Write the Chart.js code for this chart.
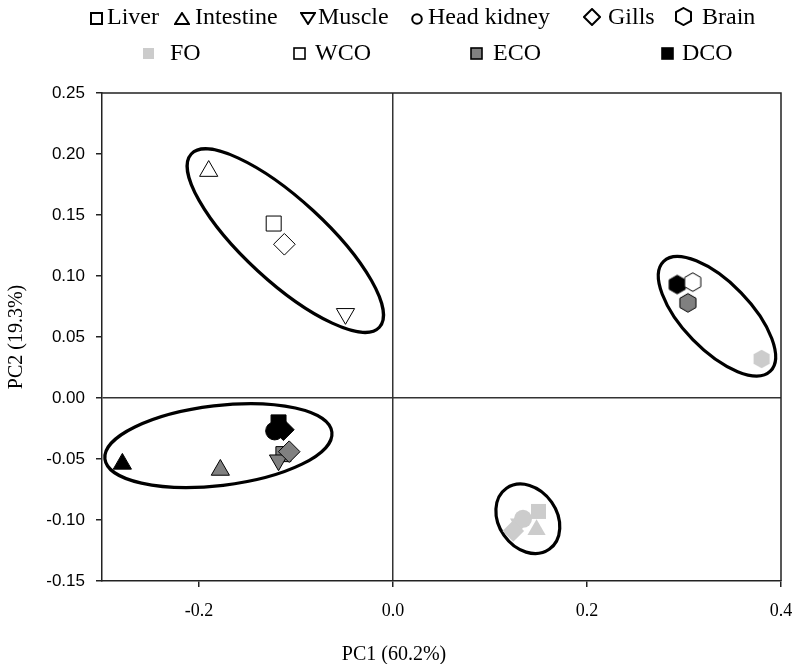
<!DOCTYPE html>
<html lang="en">
<head>
  <meta charset="UTF-8">
  <title>PCA scores</title>
  <style>
    body {
      margin: 0;
      padding: 0;
      background-color: #fff;
    }

    .wrap {
      position: relative;
      width: 794px;
      height: 664px;
    }

    .legend-text, .axis-title {
      position: absolute;
      font-family: 'Liberation Serif', 'Times New Roman', serif;
      color: #000;
      white-space: nowrap;
    }

    .legend-text {
      font-size: 24px;
      line-height: 24px;
    }

    .legend-icon {
      position: absolute;
    }

    .axis-title {
      font-size: 20px;
      line-height: 20px;
      transform: translateX(-50%);
    }
  </style>
</head>
<body>
  <div class="wrap" id="wrap">
    <canvas id="pca" width="794" height="664"></canvas>
    <div class="axis-title" style="left: 394px; top: 643px;">PC1 (60.2%)</div>
  </div>

  <script src="https://cdn.jsdelivr.net/npm/chart.js"></script>
  <script>
    // tissues (marker shape) and diets (marker colour)
    const tissues = ['Liver', 'Intestine', 'Muscle', 'Head kidney', 'Gills', 'Brain'];
    const diets = ['FO', 'WCO', 'ECO', 'DCO'];

    // PC1 / PC2 scores, one value per tissue (null = not visible)
    const pc1FO = [0.150, 0.148, 0.130, 0.134, 0.124, 0.380];
    const pc2FO = [-0.093, -0.108, -0.103, -0.099, -0.109, 0.032];
    const pc1WCO = [-0.123, -0.190, -0.049, null, -0.112, 0.309];
    const pc2WCO = [0.143, 0.186, 0.069, null, 0.126, 0.095];
    const pc1ECO = [-0.113, -0.178, -0.118, null, -0.107, 0.304];
    const pc2ECO = [-0.046, -0.059, -0.051, null, -0.044, 0.078];
    const pc1DCO = [-0.118, -0.279, null, -0.122, -0.113, 0.293];
    const pc2DCO = [-0.020, -0.054, null, -0.027, -0.026, 0.093];

    const xTickValues = [-0.2, 0, 0.2, 0.4];

    // cluster ellipses: centre, end of long axis, short/long ratio
    const ellipseCentreX = [-0.111, -0.180, 0.139, 0.334];
    const ellipseCentreY = [0.129, -0.039, -0.099, 0.067];
    const ellipseTipX = [-0.014, -0.063, 0.161, 0.389];
    const ellipseTipY = [0.058, -0.028, -0.124, 0.022];
    const ellipseRatio = [0.32, 0.35, 0.78, 0.44];

    const pc1 = [pc1FO, pc1WCO, pc1ECO, pc1DCO];
    const pc2 = [pc2FO, pc2WCO, pc2ECO, pc2DCO];

    // styles
    const dietFill = ['#cccccc', '#ffffff', '#808080', '#000000'];
    const dietBorder = ['#cccccc', '#000000', '#000000', '#000000'];
    const dietBorderWidth = [0, 1, 1, 1];
    const tissueShape = ['rect', 'triangle', 'triangle', 'circle', 'rectRot', 'hexagon'];
    const tissueRotation = [0, 0, 180, 0, 0, 0];
    const tissueRadius = [10.6, 10.5, 10.5, 9, 10.8, 9.5];

    function hexagon(fill, stroke, lw) {
      const c = document.createElement('canvas');
      c.width = 22; c.height = 22;
      const g = c.getContext('2d');
      g.beginPath();
      for (let k = 0; k < 6; k++) {
        const a = -Math.PI / 2 + k * Math.PI / 3;
        const px = 11 + 9.3 * Math.cos(a), py = 11 + 9.3 * Math.sin(a);
        if (k === 0) g.moveTo(px, py); else g.lineTo(px, py);
      }
      g.closePath();
      g.fillStyle = fill;
      g.fill();
      if (lw > 0) {
        g.lineWidth = lw;
        g.strokeStyle = stroke;
        g.stroke();
      }
      return c;
    }

    const datasets = diets.map((d, di) => ({
      label: d,
      data: tissues.map((t, ti) => ({ x: pc1[di][ti], y: pc2[di][ti] })),
      pointStyle: tissueShape.map(s => s === 'hexagon' ? hexagon(dietFill[di], dietBorder[di], dietBorderWidth[di]) : s),
      pointRotation: tissueRotation,
      pointRadius: tissueRadius,
      backgroundColor: dietFill[di],
      borderColor: dietBorder[di],
      borderWidth: dietBorderWidth[di]
    }));

    // legend (HTML, above the canvas)
    const tissueIconX = [90, 174, 300, 411, 583, 675];
    const tissueTextX = [107, 195, 318, 428, 608, 702];
    const dietIconX = [142, 293, 470, 661];
    const dietTextX = [170, 315, 493, 682];

    function iconSvg(shape, fill, stroke, sw) {
      let body = '';
      if (shape === 'rect') body = `<rect x="1" y="1" width="11" height="11"/>`;
      if (shape === 'triangle') body = `<polygon points="8,1 15,12 1,12"/>`;
      if (shape === 'triangleDown') body = `<polygon points="1,1 15,1 8,12"/>`;
      if (shape === 'circle') body = `<circle cx="6" cy="6" r="4.8"/>`;
      if (shape === 'rectRot') body = `<polygon points="9,1 17,9 9,17 1,9"/>`;
      if (shape === 'hexagon') body = `<polygon points="8.5,1 16,5.2 16,13.8 8.5,18 1,13.8 1,5.2"/>`;
      const size = { rect: [13, 13], triangle: [16, 13], triangleDown: [16, 13], circle: [12, 12], rectRot: [18, 18], hexagon: [17, 19] }[shape];
      return `<svg width="${size[0]}" height="${size[1]}"><g fill="${fill}" stroke="${stroke}" stroke-width="${sw}">${body}</g></svg>`;
    }

    const wrap = document.getElementById('wrap');
    const legendShapes = ['rect', 'triangle', 'triangleDown', 'circle', 'rectRot', 'hexagon'];
    const legendIconTop = [11, 11, 11, 11, 8, 7];
    tissues.forEach((t, i) => {
      const ic = document.createElement('div');
      ic.className = 'legend-icon';
      ic.style.left = tissueIconX[i] + 'px';
      ic.style.top = legendIconTop[i] + 'px';
      ic.innerHTML = iconSvg(legendShapes[i], 'none', '#000', 2);
      wrap.appendChild(ic);
      const tx = document.createElement('div');
      tx.className = 'legend-text';
      tx.style.left = tissueTextX[i] + 'px';
      tx.style.top = '4px';
      tx.textContent = t;
      wrap.appendChild(tx);
    });
    diets.forEach((d, i) => {
      const ic = document.createElement('div');
      ic.className = 'legend-icon';
      ic.style.left = dietIconX[i] + 'px';
      ic.style.top = '46px';
      ic.innerHTML = iconSvg('rect', dietFill[i], dietBorderWidth[i] ? '#000' : 'none', 1.6);
      wrap.appendChild(ic);
      const tx = document.createElement('div');
      tx.className = 'legend-text';
      tx.style.left = dietTextX[i] + 'px';
      tx.style.top = '40px';
      tx.textContent = d;
      wrap.appendChild(tx);
    });

    // ellipses under the markers, frame on top and right
    const clusterPlugin = {
      id: 'clusters',
      beforeDatasetsDraw(chart) {
        const { ctx, scales: { x, y } } = chart;
        ctx.save();
        ctx.lineWidth = 3.2;
        ctx.strokeStyle = '#000';
        ellipseCentreX.forEach((cxv, i) => {
          const cx = x.getPixelForValue(cxv), cy = y.getPixelForValue(ellipseCentreY[i]);
          const tx = x.getPixelForValue(ellipseTipX[i]), ty = y.getPixelForValue(ellipseTipY[i]);
          const a = Math.hypot(tx - cx, ty - cy);
          ctx.beginPath();
          ctx.ellipse(cx, cy, a, a * ellipseRatio[i], Math.atan2(ty - cy, tx - cx), 0, Math.PI * 2);
          ctx.stroke();
        });
        ctx.restore();
      },
      afterDraw(chart) {
        const { ctx, chartArea: a } = chart;
        ctx.save();
        ctx.lineWidth = 1.5;
        ctx.strokeStyle = '#222';
        ctx.beginPath();
        ctx.moveTo(a.left, a.top);
        ctx.lineTo(a.right, a.top);
        ctx.lineTo(a.right, a.bottom);
        ctx.stroke();
        ctx.restore();
      }
    };

    const zeroLine = c => Math.abs(c.tick.value) < 1e-9 ? '#333' : 'rgba(0,0,0,0)';

    new Chart(document.getElementById('pca'), {
      type: 'scatter',
      data: { datasets },
      plugins: [clusterPlugin],
      options: {
        responsive: false,
        animation: false,
        events: [],
        layout: { padding: { top: 93, right: 0, bottom: 0, left: 0 } },
        plugins: { legend: { display: false }, tooltip: { enabled: false } },
        scales: {
          x: {
            type: 'linear',
            min: -0.3,
            max: 0.4,
            afterBuildTicks: s => { s.ticks = xTickValues.map(v => ({ value: v })); },
            afterFit: s => { s.height = 83; s.paddingRight = 13; s.paddingLeft = 0; },
            border: { display: true, color: '#222', width: 1.5 },
            grid: { color: zeroLine, lineWidth: 1.5, tickColor: '#222', tickWidth: 1.5, tickLength: 6 },
            ticks: {
              padding: 13,
              color: '#000',
              font: { family: "'Liberation Serif', serif", size: 18 },
              callback: v => v.toFixed(1)
            }
          },
          y: {
            min: -0.15,
            max: 0.25,
            afterFit: s => { s.width = 102; },
            border: { display: true, color: '#222', width: 1.5 },
            grid: { color: zeroLine, lineWidth: 1.5, tickColor: '#222', tickWidth: 1.5, tickLength: 6 },
            ticks: {
              stepSize: 0.05,
              padding: 11,
              color: '#000',
              font: { family: "'Liberation Sans', sans-serif", size: 17 },
              callback: v => v.toFixed(2)
            },
            title: {
              display: true,
              text: 'PC2 (19.3%)',
              color: '#000',
              padding: { top: 5, bottom: 0 },
              font: { family: "'Liberation Serif', serif", size: 20 }
            }
          }
        }
      }
    });
  </script>
</body>
</html>
